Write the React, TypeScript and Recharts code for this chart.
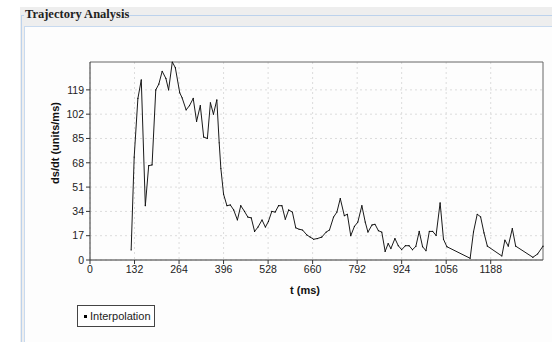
import React from 'react'
import { LineChart, Line, XAxis, YAxis, CartesianGrid, Label, ReferenceLine } from 'recharts'

// t (ms) and ds/dt
const tValues = [
  122, 131, 142, 152, 164, 174, 184, 195, 204, 214, 225, 233, 244, 253, 266, 273, 285, 295, 306, 316,
  327, 337, 348, 357, 366, 376, 383, 388, 396, 406, 416, 426, 437, 447, 458, 468, 478, 488, 498, 510,
  520, 529, 539, 549, 559, 569, 579, 589, 600, 610, 620, 630, 643, 653, 663, 674, 687, 700, 710, 722,
  732, 742, 754, 763, 773, 784, 794, 806, 816, 824, 836, 845, 855, 865, 875, 884, 892, 904, 914, 924,
  935, 946, 956, 966, 976, 986, 996, 1006, 1016, 1026, 1038, 1048, 1058, 1127, 1137, 1148, 1158, 1168,
  1178, 1221, 1230, 1240, 1252, 1262, 1313, 1327, 1343,
]
const dsdtValues = [
  7, 72, 113, 126, 38, 66, 66.5, 119, 123, 132, 127, 119, 138.5, 134.5, 117, 113.5, 105, 108, 113, 97,
  108, 86, 85, 110, 102, 112, 82, 64, 46, 38, 38.5, 35, 28, 38, 34, 30, 29.5, 20, 23, 28,
  23, 27, 34, 33.5, 38, 38, 28.5, 35, 33.5, 22.5, 21.5, 21, 17.5, 16, 14.5, 15, 16, 19.5, 21, 30,
  33.5, 43, 31, 32, 17, 23.5, 26.5, 38, 26.5, 19.5, 24.5, 25, 20.5, 19.5, 6, 11.5, 8, 15, 10, 7.2,
  10, 10, 7.2, 9.5, 20, 9.3, 6.5, 20, 20, 17.2, 40, 14.5, 9.3, 1.2, 19.7, 32, 30.2, 19,
  9.7, 2.8, 14, 9.7, 22, 9.7, 1.9, 4.2, 9.7,
]
const xTicks = [0, 132, 264, 396, 528, 660, 792, 924, 1056, 1188]
const yTicks = [0, 17, 34, 51, 68, 85, 102, 119]

const data = tValues.map((t, i) => ({ t, v: dsdtValues[i] }))
const tMax = Math.max(...tValues)
const vMax = Math.max(...dsdtValues)

const tickFont = { fontFamily: '"Liberation Sans Narrow", "Liberation Sans", Arial, sans-serif', fontSize: 10.5, fill: '#222' }
const labelFont = { fontFamily: '"Liberation Sans", Arial, sans-serif', fontSize: 11, fontWeight: 700, fill: '#111' }

export default function App() {
  return (
    <div style={{ position: 'absolute', left: 0, top: 0, width: 552, height: 342, background: '#fff', overflow: 'hidden' }}>
      {/* fieldset frame */}
      <div style={{ position: 'absolute', left: 20, top: 7, width: 532, height: 335, background: '#eeeeee' }} />
      <div style={{ position: 'absolute', left: 21, top: 15, width: 531, height: 327, borderLeft: '1px solid #bcd2ec', borderTop: '1px solid #bcd2ec' }} />
      <div style={{ position: 'absolute', left: 24, top: 26, width: 528, height: 316, background: '#fdfdfd', borderLeft: '1px solid #c8daef', borderTop: '1px solid #c8daef' }} />
      <div style={{ position: 'absolute', left: 24, top: 7, padding: '0 1px', background: '#eeeeee', fontFamily: '"Liberation Serif", "DejaVu Serif", serif', fontWeight: 700, fontSize: 12.5, color: '#222', lineHeight: '15px' }}>
        Trajectory Analysis
      </div>

      <div style={{ position: 'absolute', left: 0, top: 0 }}>
        <LineChart width={552} height={342} data={data} margin={{ top: 62, right: 9, bottom: 52, left: 50 }}>
          <CartesianGrid stroke="#dcdcdc" strokeDasharray="2 3" horizontalValues={yTicks} verticalValues={xTicks} />
          <XAxis
            dataKey="t"
            type="number"
            domain={[0, 'dataMax']}
            ticks={xTicks}
            tickSize={4}
            height={30}
            stroke="#333"
            tick={tickFont}
          >
            <Label
              content={() => (
                <text x={305} y={294} textAnchor="middle" style={labelFont}>
                  t (ms)
                </text>
              )}
            />
          </XAxis>
          <YAxis
            type="number"
            domain={[0, 'dataMax']}
            ticks={yTicks}
            tickSize={4}
            width={40}
            stroke="#333"
            tick={tickFont}
          >
            <Label
              content={() => (
                <text x={59} y={143} textAnchor="middle" transform="rotate(-90 59 143)" style={labelFont}>
                  ds/dt (units/ms)
                </text>
              )}
            />
          </YAxis>
          {/* plot frame: top and right edges */}
          <ReferenceLine y={vMax} stroke="#666" strokeWidth={1} ifOverflow="visible" />
          <ReferenceLine x={tMax} stroke="#666" strokeWidth={1} ifOverflow="visible" />
          <Line
            type="linear"
            dataKey="v"
            stroke="#1a1a1a"
            strokeWidth={1}
            dot={{ r: 0.6, fill: '#000', stroke: 'none' }}
            isAnimationActive={false}
          />
        </LineChart>
      </div>

      {/* legend */}
      <div style={{ position: 'absolute', left: 77, top: 305, width: 76, height: 20, border: '1px solid #444', background: '#fff', fontFamily: '"Liberation Sans", Arial, sans-serif', fontSize: 11, color: '#222', lineHeight: '20px', boxSizing: 'content-box' }}>
        <span style={{ display: 'inline-block', width: 3, height: 3, background: '#000', margin: '0 3px 2px 6px', verticalAlign: 'middle' }} />
        Interpolation
      </div>
    </div>
  )
}
